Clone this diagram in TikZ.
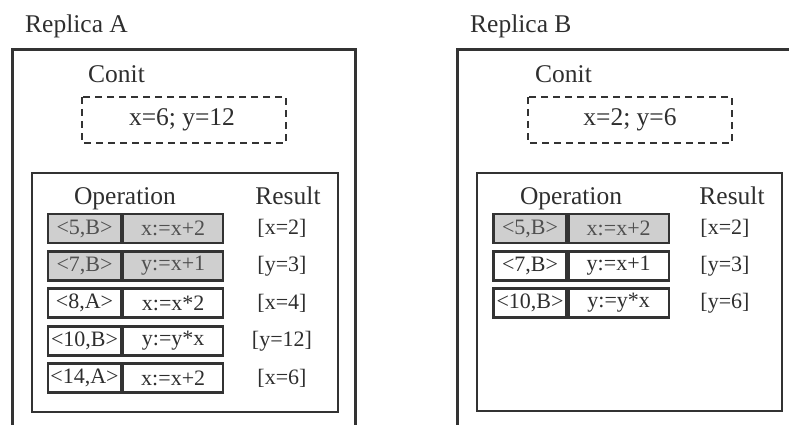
\documentclass[tikz,border=0pt]{standalone}
\usepackage{fontspec}
\setmainfont{Liberation Serif}
\definecolor{ink}{HTML}{2E2E2E}
\definecolor{frame}{HTML}{333333}
\definecolor{shade}{HTML}{CFCFCF}
\definecolor{shadeink}{HTML}{505050}
\tikzset{
  lbl/.style={font=\fontsize{25.5}{28}\selectfont, text=ink, inner sep=0pt},
  small/.style={font=\fontsize{22}{24}\selectfont, text=ink, inner sep=0pt},
  cellA/.style={draw=frame, line width=2.2pt, minimum width=73pt, minimum height=29pt, inner sep=0pt, font=\fontsize{22}{24}\selectfont, text=ink},
  cellB/.style={draw=frame, line width=2.2pt, minimum width=100pt, minimum height=29pt, inner sep=0pt, font=\fontsize{22}{24}\selectfont, text=ink},
  shaded/.style={fill=shade, text=shadeink},
  outer/.style={draw=frame, line width=3pt},
  inner/.style={draw=frame, line width=2pt},
  conit/.style={draw=frame, line width=1.8pt, dash pattern=on 7pt off 5pt}
}
\begin{document}
\begin{tikzpicture}[x=1pt,y=-1pt]
\useasboundingbox (0,0) rectangle (789,425);
% ---------- Replica A ----------
\node[lbl, anchor=base west] (repA) at (25,33) {Replica A};
\draw[outer] (12,425) -- (12,50) -- (355,50) -- (355,425);
\node[lbl, anchor=base west] (conA) at (88,83) {Conit};
\draw[conit] (82,97) rectangle (286,143);
\node[lbl] (valA) at (182,120) {x=6; y=12};
\draw[inner] (32,173) rectangle (338,412);
\node[lbl, anchor=base] (opA) at (125,204) {Operation};
\node[lbl, anchor=base] (resA) at (288,204) {Result};
% rows
\node[cellA, shaded] (a1k) at (84.5,228.5) {<5,B>};
\node[cellB, shaded, anchor=west] (a1o) at (a1k.east) {x:=x+2};
\node[small] (a1r) at (282,228.5) {[x=2]};
\node[cellA, shaded] (a2k) at (84.5,266) {<7,B>};
\node[cellB, shaded, anchor=west] (a2o) at (a2k.east) {y:=x+1};
\node[small] (a2r) at (282,266) {[y=3]};
\node[cellA] (a3k) at (84.5,303) {<8,A>};
\node[cellB, anchor=west] (a3o) at (a3k.east) {x:=x*2};
\node[small] (a3r) at (282,303) {[x=4]};
\node[cellA] (a4k) at (84.5,341) {<10,B>};
\node[cellB, anchor=west] (a4o) at (a4k.east) {y:=y*x};
\node[small] (a4r) at (282,341) {[y=12]};
\node[cellA] (a5k) at (84.5,378) {<14,A>};
\node[cellB, anchor=west] (a5o) at (a5k.east) {x:=x+2};
\node[small] (a5r) at (282,378) {[x=6]};
% ---------- Replica B ----------
\node[lbl, anchor=base west] (repB) at (470,33) {Replica B};
\draw[outer] (457,425) -- (457,50) -- (792,50);
\node[lbl, anchor=base west] (conB) at (535,83) {Conit};
\draw[conit] (528,97) rectangle (732,143);
\node[lbl] (valB) at (630,120) {x=2; y=6};
\draw[inner] (477,173) rectangle (782,411);
\node[lbl, anchor=base] (opB) at (571,204) {Operation};
\node[lbl, anchor=base] (resB) at (732,204) {Result};
\node[cellA, shaded] (b1k) at (530,228.5) {<5,B>};
\node[cellB, shaded, anchor=west] (b1o) at (b1k.east) {x:=x+2};
\node[small] (b1r) at (725,228.5) {[x=2]};
\node[cellA] (b2k) at (530,266) {<7,B>};
\node[cellB, anchor=west] (b2o) at (b2k.east) {y:=x+1};
\node[small] (b2r) at (725,266) {[y=3]};
\node[cellA] (b3k) at (530,303) {<10,B>};
\node[cellB, anchor=west] (b3o) at (b3k.east) {y:=y*x};
\node[small] (b3r) at (725,303) {[y=6]};
\end{tikzpicture}
\end{document}
